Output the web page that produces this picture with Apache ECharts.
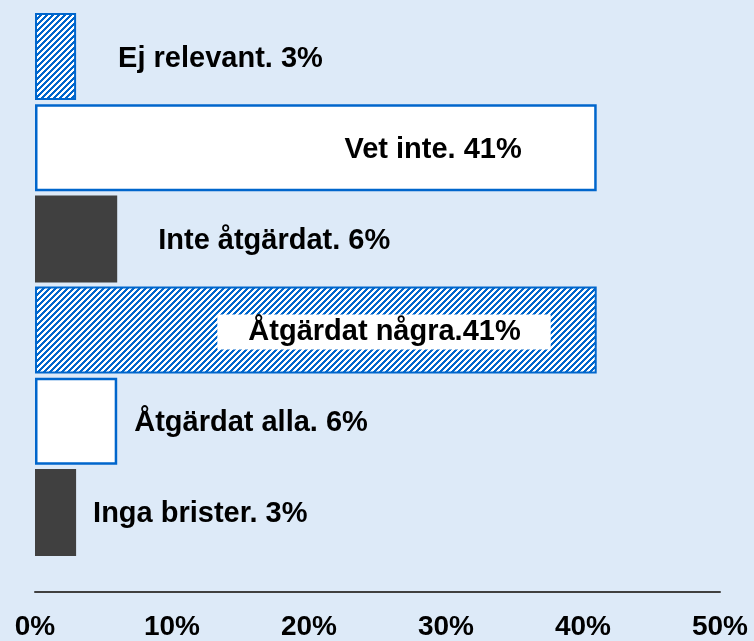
<!DOCTYPE html>
<html>
<head>
<meta charset="utf-8">
<script src="https://cdn.jsdelivr.net/npm/echarts@6/dist/echarts.min.js"></script>
<style>
  html, body { margin: 0; padding: 0; background: #ddeaf8; }
  #chart { width: 754px; height: 641px; }
</style>
</head>
<body>
<div id="chart"></div>
<script>
// Answer categories, top to bottom
const categories = ['Ej relevant', 'Vet inte', 'Inte åtgärdat', 'Åtgärdat några', 'Åtgärdat alla', 'Inga brister'];
// Share of answers, percent
const values = [3, 41, 6, 41, 6, 3];
// Text shown beside each bar (value and % appended)
const labelPrefixes = ['Ej relevant. ', 'Vet inte. ', 'Inte åtgärdat. ', 'Åtgärdat några.', 'Åtgärdat alla. ', 'Inga brister. '];
// Axis tick values
const ticks = [0, 10, 20, 30, 40, 50];

// Fill style for each bar: hatched, outlined or solid
const fillKinds = ['hatch', 'outline', 'solid', 'hatch', 'outline', 'solid'];
// Label placement for each bar: [position, x offset]
const labelPlacement = [
  ['right', 42], ['insideRight', -75], ['right', 41],
  ['insideRight', -46], ['right', 17], ['right', 17]
];

const BLUE = '#0066cc';
const DARK = '#404040';

// Diagonal blue/white hatch tile
function hatchTile() {
  const n = 6;
  const c = document.createElement('canvas');
  c.width = n; c.height = n;
  const g = c.getContext('2d');
  g.fillStyle = '#ffffff';
  g.fillRect(0, 0, n, n);
  g.fillStyle = BLUE;
  for (let x = 0; x < n; x++) {
    for (let y = 0; y < n; y++) {
      if ((x + y) % n < 3) g.fillRect(x, y, 1, 1);
    }
  }
  return c;
}
const hatch = { image: hatchTile(), repeat: 'repeat' };

function styleFor(kind) {
  if (kind === 'hatch') return { color: hatch, borderColor: BLUE, borderWidth: 2 };
  if (kind === 'outline') return { color: '#ffffff', borderColor: BLUE, borderWidth: 2.5 };
  return { color: DARK, borderWidth: 0 };
}

const data = values.map((v, i) => {
  const [pos, dx] = labelPlacement[i];
  const label = {
    show: true,
    position: pos,
    distance: 0,
    offset: [dx, 2],
    formatter: labelPrefixes[i] + v + '%'
  };
  if (i === 3) {
    label.backgroundColor = '#ffffff';
    label.padding = [3, 30, 3, 31];
    label.lineHeight = 29;
  }
  return { value: v, name: categories[i], itemStyle: styleFor(fillKinds[i]), label };
});

const chart = echarts.init(document.getElementById('chart'));
chart.setOption({
  backgroundColor: '#ddeaf8',
  animation: false,
  grid: { left: 35, right: 34, top: 11, height: 548, containLabel: false },
  xAxis: {
    type: 'value',
    min: ticks[0],
    max: ticks[ticks.length - 1],
    interval: ticks[1] - ticks[0],
    offset: 34,
    axisLine: { show: true, lineStyle: { color: '#404040', width: 2 } },
    axisTick: { show: false },
    splitLine: { show: false },
    axisLabel: {
      formatter: '{value}%',
      color: '#000000',
      fontFamily: 'Liberation Sans, Arial, sans-serif',
      fontWeight: 'bold',
      fontSize: 28,
      margin: 21
    }
  },
  yAxis: {
    type: 'category',
    data: categories,
    inverse: true,
    show: false
  },
  series: [{
    type: 'bar',
    data: data,
    barWidth: 87,
    label: {
      color: '#000000',
      fontFamily: 'Liberation Sans, Arial, sans-serif',
      fontWeight: 'bold',
      fontSize: 29
    }
  }]
});
</script>
</body>
</html>
